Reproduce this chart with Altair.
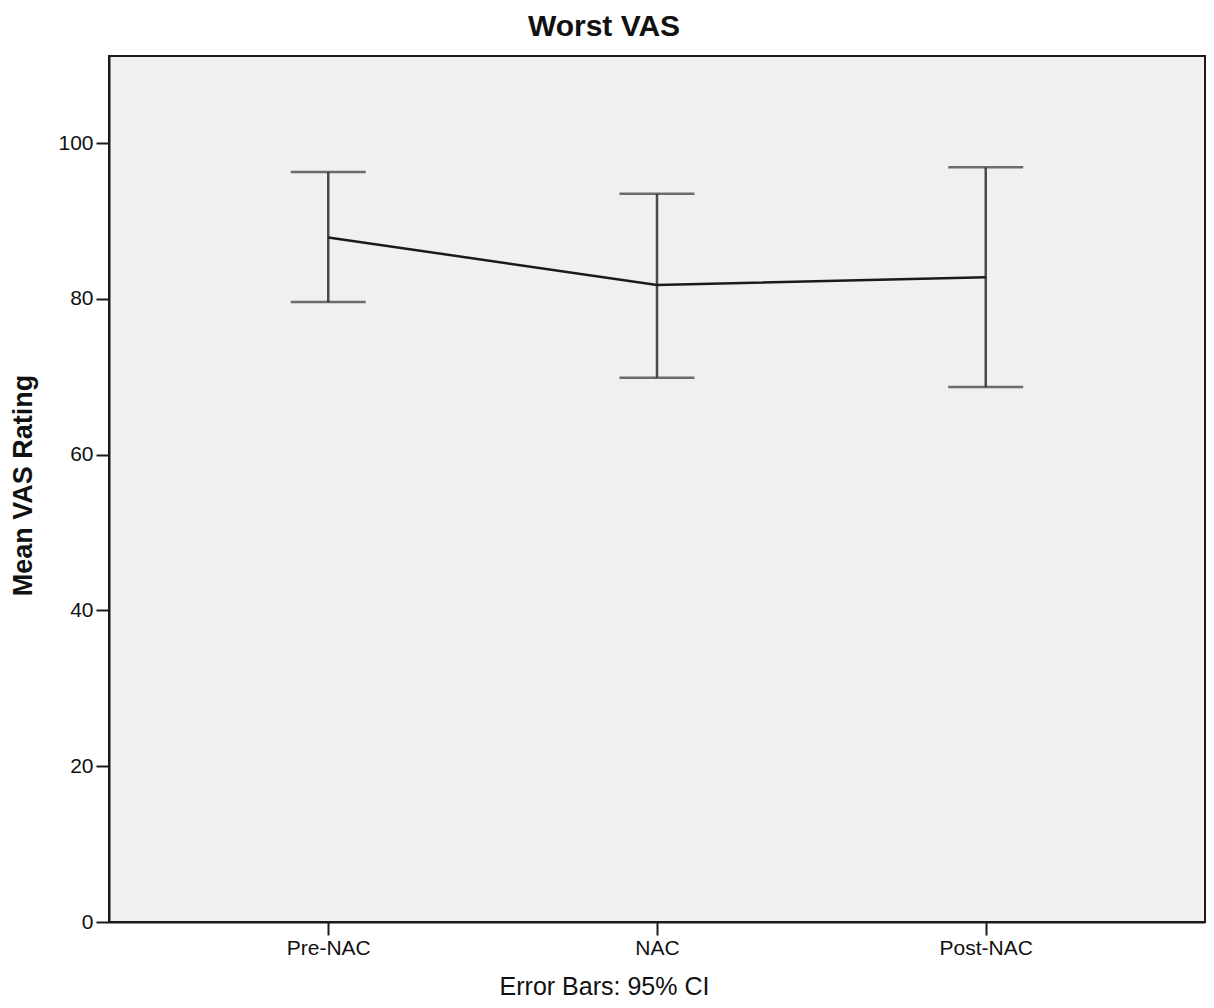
import altair as alt
import pandas as pd

# ---- data ----
phases = ["Pre-NAC", "NAC", "Post-NAC"]
means = [87.9, 81.8, 82.8]
ci_low = [79.6, 69.9, 68.7]
ci_high = [96.3, 93.5, 96.9]
y_ticks = [0, 20, 40, 60, 80, 100]

df = pd.DataFrame({"phase": phases, "mean": means, "low": ci_low, "high": ci_high})

FONT = "Liberation Sans"
DARK = "#1a1a1a"

x_enc = alt.X(
    "phase:N",
    sort=phases,
    scale=alt.Scale(type="point", padding=0.667),
    axis=alt.Axis(
        title="Error Bars: 95% CI",
        labelAngle=0,
        labelFont=FONT,
        labelFontSize=21,
        labelColor="#111",
        labelPadding=2,
        tickSize=13,
        tickWidth=2,
        tickColor=DARK,
        domainColor=DARK,
        domainWidth=2,
        titleFont=FONT,
        titleFontSize=25,
        titleFontWeight="normal",
        titleColor="#111",
        titleX=495,
        titleY=72,
        titleAlign="center",
        titleBaseline="alphabetic",
    ),
)

y_axis = alt.Axis(
    title="Mean VAS Rating",
    values=y_ticks,
    grid=False,
    labelFont=FONT,
    labelFontSize=21,
    labelColor="#111",
    labelPadding=3,
    tickSize=13,
    tickWidth=2,
    tickColor=DARK,
    domainColor=DARK,
    domainWidth=2,
    titleFont=FONT,
    titleFontSize=27,
    titleFontWeight="bold",
    titleColor="#111",
    titleX=-72,
    titleY=429,
    titleAlign="center",
    titleBaseline="bottom",
)
y_scale = alt.Scale(domain=[0, 111.2], nice=False, zero=True)

base = alt.Chart(df)

bars = base.mark_rule(color="#4a4a4a", strokeWidth=2.5).encode(
    x=x_enc,
    y=alt.Y("low:Q", scale=y_scale, axis=y_axis),
    y2="high:Q",
)
cap_low = base.mark_tick(size=75, thickness=2.5, color="#333").encode(
    x=x_enc, y=alt.Y("low:Q", scale=y_scale, axis=y_axis)
)
cap_high = base.mark_tick(size=75, thickness=2.5, color="#333").encode(
    x=x_enc, y=alt.Y("high:Q", scale=y_scale, axis=y_axis)
)
line = base.mark_line(color=DARK, strokeWidth=2.5).encode(
    x=x_enc, y=alt.Y("mean:Q", scale=y_scale, axis=y_axis)
)

chart = (
    alt.layer(bars, cap_low, cap_high, line)
    .properties(
        width=1096,
        height=866,
        title=alt.Title(
            "Worst VAS",
            font=FONT,
            fontSize=30,
            fontWeight="bold",
            color="#111",
            anchor="middle",
            frame="group",
            dx=-53,
            offset=14,
        ),
        autosize=alt.AutoSizeParams(type="none"),
        padding={"left": 101, "top": 48, "right": 1, "bottom": 78},
        background="white",
    )
    .configure_view(fill="#f0f0f0", stroke=DARK, strokeWidth=2)
)

chart.save("out.html", embed_options={"renderer": "svg", "actions": False})
